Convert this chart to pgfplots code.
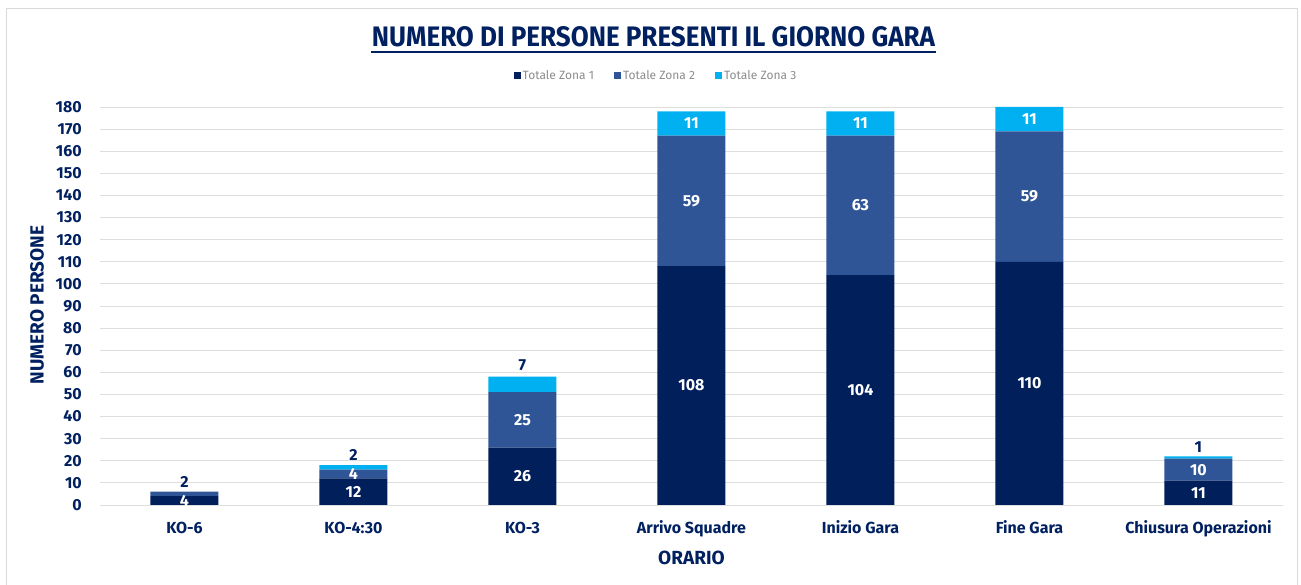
\documentclass[border=0pt]{standalone}
\usepackage{pgfplots}
\pgfplotsset{compat=1.18}
\usepackage{pgfplotstable}
\usepackage{graphicx}
\usepackage{fontspec}
\setmainfont{Fira Sans}
\definecolor{navy}{HTML}{002060}
\definecolor{zoneA}{HTML}{001F5B}
\definecolor{zoneB}{HTML}{2F5597}
\definecolor{zoneC}{HTML}{00B0F0}

\pgfplotstableread{
x z1 z2 z3
0 4 2 0
1 12 4 2
2 26 25 7
3 108 59 11
4 104 63 11
5 110 59 11
6 11 10 1
}\data

\pgfplotstableread{
x y lab
0 2 4
1 6 12
1 14 4
2 13 26
2 38.5 25
3 54 108
3 137.5 59
3 172.5 11
4 52 104
4 135.5 63
4 172.5 11
5 55 110
5 139.5 59
5 174.5 11
6 5.5 11
6 16 10
}\whitelabels

\pgfplotstableread{
x y lab
0 10.5 2
1 22.5 2
2 63 7
6 26 1
}\darklabels

\begin{document}
\begin{tikzpicture}[x=1pt,y=1pt]
\useasboundingbox (0,0) rectangle (1301,585);
\draw[black!15, line width=1pt] (6.5,0) -- (6.5,576.5) -- (1297.5,576.5) -- (1297.5,0);
\begin{axis}[
  at={(100pt,80pt)}, anchor=south west, scale only axis,
  width=1183pt, height=398pt,
  ybar stacked, bar width=68pt,
  xmin=-0.5, xmax=6.5, ymin=0, ymax=180,
  xtick={0,1,2,3,4,5,6},
  xticklabels={KO-6,KO-4:30,KO-3,Arrivo Squadre,Inizio Gara,Fine Gara,Chiusura Operazioni},
  ytick={0,10,...,180},
  ymajorgrids, grid style={black!13, line width=0.9pt},
  axis line style={draw=none}, major tick style={draw=none},
  /pgf/number format/assume math mode=true,
  yticklabel style={anchor=east, inner sep=0pt, xshift=-18pt, font=\bfseries\fontsize{16}{16}\selectfont, text=navy},
  xticklabel style={anchor=base, inner sep=0pt, yshift=-28.5pt, font=\bfseries\fontsize{16}{16}\selectfont, text=navy},
  xlabel={ORARIO},
  xlabel style={at={(axis description cs:0.5,-0.133)}, anchor=center, font=\bfseries\fontsize{19}{19}\selectfont, text=navy},
  ylabel={NUMERO PERSONE},
  ylabel style={at={(axis description cs:-0.0533,0.503)}, anchor=center, rotate=0, font=\bfseries\fontsize{19}{19}\selectfont, text=navy},
  legend style={at={(axis description cs:0.47,1.078)}, anchor=center, draw=none, fill=none,
    legend columns=3, font=\fontsize{12}{12}\selectfont\color{black!45},
    /tikz/every even column/.append style={column sep=18pt}},
  legend image code/.code={\fill[#1] (0pt,-3.5pt) rectangle (7pt,3.5pt);},
]
\addplot[fill=zoneA, draw=none] table[x=x,y=z1] {\data};
\addlegendentry{Totale Zona 1}
\addplot[fill=zoneB, draw=none] table[x=x,y=z2] {\data};
\addlegendentry{Totale Zona 2}
\addplot[fill=zoneC, draw=none] table[x=x,y=z3] {\data};
\addlegendentry{Totale Zona 3}
\end{axis}
\begin{axis}[
  at={(100pt,80pt)}, anchor=south west, scale only axis,
  width=1183pt, height=398pt,
  xmin=-0.5, xmax=6.5, ymin=0, ymax=180,
  hide axis, clip=false,
]
\addplot[only marks, mark=*, mark size=0pt, mark options={draw=none,fill=none},
  nodes near coords, point meta=explicit symbolic,
  nodes near coords style={anchor=center, text=white, font=\bfseries\fontsize{16}{16}\selectfont}]
  table[x=x,y=y,meta=lab] {\whitelabels};
\addplot[only marks, mark=*, mark size=0pt, mark options={draw=none,fill=none},
  nodes near coords, point meta=explicit symbolic,
  nodes near coords style={anchor=center, text=navy, font=\bfseries\fontsize{16}{16}\selectfont}]
  table[x=x,y=y,meta=lab] {\darklabels};
\end{axis}
\node[text=navy, inner sep=0pt] at (653.5,548) {\resizebox{563pt}{20pt}{\bfseries NUMERO DI PERSONE PRESENTI IL GIORNO GARA}};
\draw[navy, line width=1.6pt] (371,533) -- (936,533);
\end{tikzpicture}
\end{document}
